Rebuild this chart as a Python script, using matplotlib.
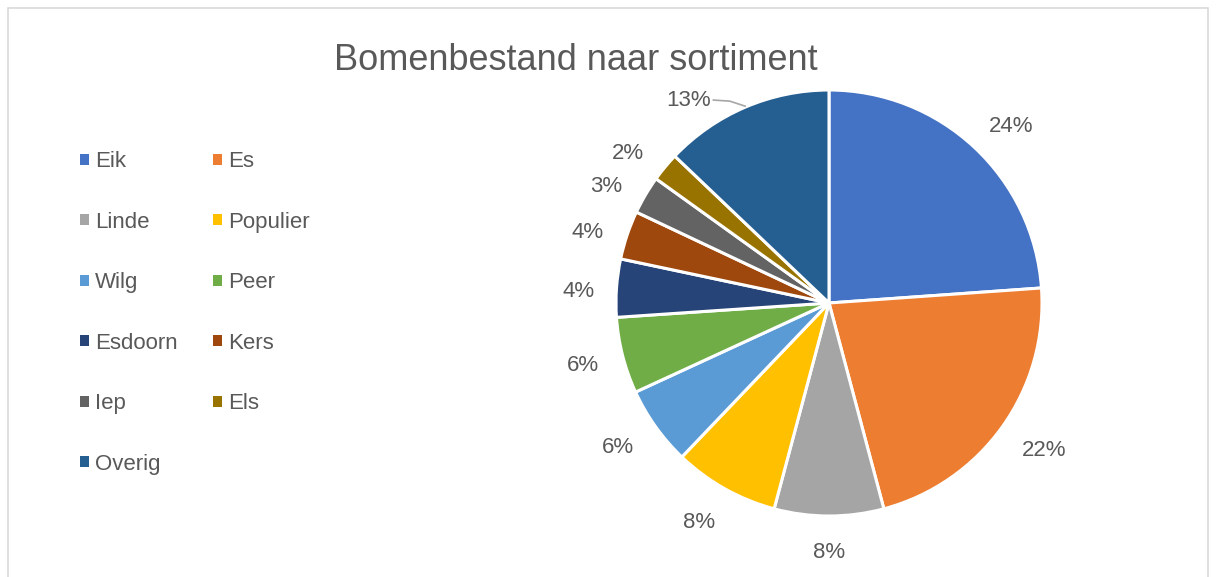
import numpy as np
import matplotlib
matplotlib.use("Agg")
import matplotlib.pyplot as plt
from matplotlib.patches import Patch, Rectangle

plt.rcParams['font.family'] = ['Liberation Sans', 'DejaVu Sans']

soorten = ['Eik', 'Es', 'Linde', 'Populier', 'Wilg', 'Peer',
           'Esdoorn', 'Kers', 'Iep', 'Els', 'Overig']
aandeel = [23.9, 22.0, 8.3, 8.0, 6.0, 5.8, 4.4, 3.7, 2.9, 2.2, 12.9]
labels_pct = ['24%', '22%', '8%', '8%', '6%', '6%', '4%', '4%', '3%', '2%', '13%']
kleuren = ['#4472C4', '#ED7D31', '#A5A5A5', '#FFC000', '#5B9BD5', '#70AD47',
           '#264478', '#9E480E', '#636363', '#997300', '#255E91']

tekst = '#595959'

fig = plt.figure(figsize=(12.17, 5.77), dpi=100)

# grijze rand rond de grafiek
fig.patches.append(Rectangle((8 / 1217, -0.1), 1200 / 1217, 1.1 - 8 / 577,
                             transform=fig.transFigure, fill=False,
                             edgecolor='#D9D9D9', linewidth=1.2))

ax = fig.add_axes([616 / 1217, 61 / 577, 426 / 1217, 426 / 577])
wedges, _ = ax.pie(aandeel, colors=kleuren, startangle=90, counterclock=False,
                   radius=1, wedgeprops=dict(edgecolor='white', linewidth=2.2))
ax.set_xlim(-1, 1)
ax.set_ylim(-1, 1)
ax.set_aspect('equal')
ax.axis('off')

# percentage labels net buiten de taart (tekstvak raakt een cirkel, zoals Excel)
for w, lab in zip(wedges, labels_pct):
    mid = np.deg2rad((w.theta1 + w.theta2) / 2)
    if lab == '13%':
        r = 1.17
        hoek = mid + np.deg2rad(11)
        tx, ty = r * np.cos(hoek), r * np.sin(hoek)
        ax.text(tx, ty - 0.015, lab, ha='center', va='center', fontsize=16, color=tekst)
        ex, ey = np.cos(mid), np.sin(mid)
        ax.plot([tx + 0.115, (tx + ex) / 2 + 0.06, ex],
                [ty - 0.015, ty - 0.02, ey + 0.005],
                color='#A6A6A6', linewidth=1.2, clip_on=False)
    else:
        hw = 0.103 if len(lab) == 3 else 0.075
        r = 1.1 + hw * abs(np.cos(mid)) + 0.05 * abs(np.sin(mid))
        hoek = mid - np.deg2rad(2.2) * np.sin(2 * mid)
        ax.text(r * np.cos(hoek), r * np.sin(hoek) - 0.022, lab,
                ha='center', va='center', fontsize=16, color=tekst)

fig.text(576 / 1217, 1 - 60 / 577, 'Bomenbestand naar sortiment',
         ha='center', va='center', fontsize=26, color=tekst)

# legenda: rij voor rij zoals in Excel
volgorde = [0, 2, 4, 6, 8, 10, 1, 3, 5, 7, 9]
handles = [Patch(facecolor=kleuren[i], edgecolor='none') for i in volgorde]
namen = [soorten[i] for i in volgorde]
fig.legend(handles, namen, ncol=2, loc='upper left',
           bbox_to_anchor=(69 / 1217, 1 - 140 / 577), frameon=False,
           fontsize=16, labelcolor=tekst, handlelength=0.38, handleheight=0.38,
           handletextpad=0.3, labelspacing=1.78, columnspacing=1.6,
           borderpad=0)

fig.savefig('out.png', dpi=100)
